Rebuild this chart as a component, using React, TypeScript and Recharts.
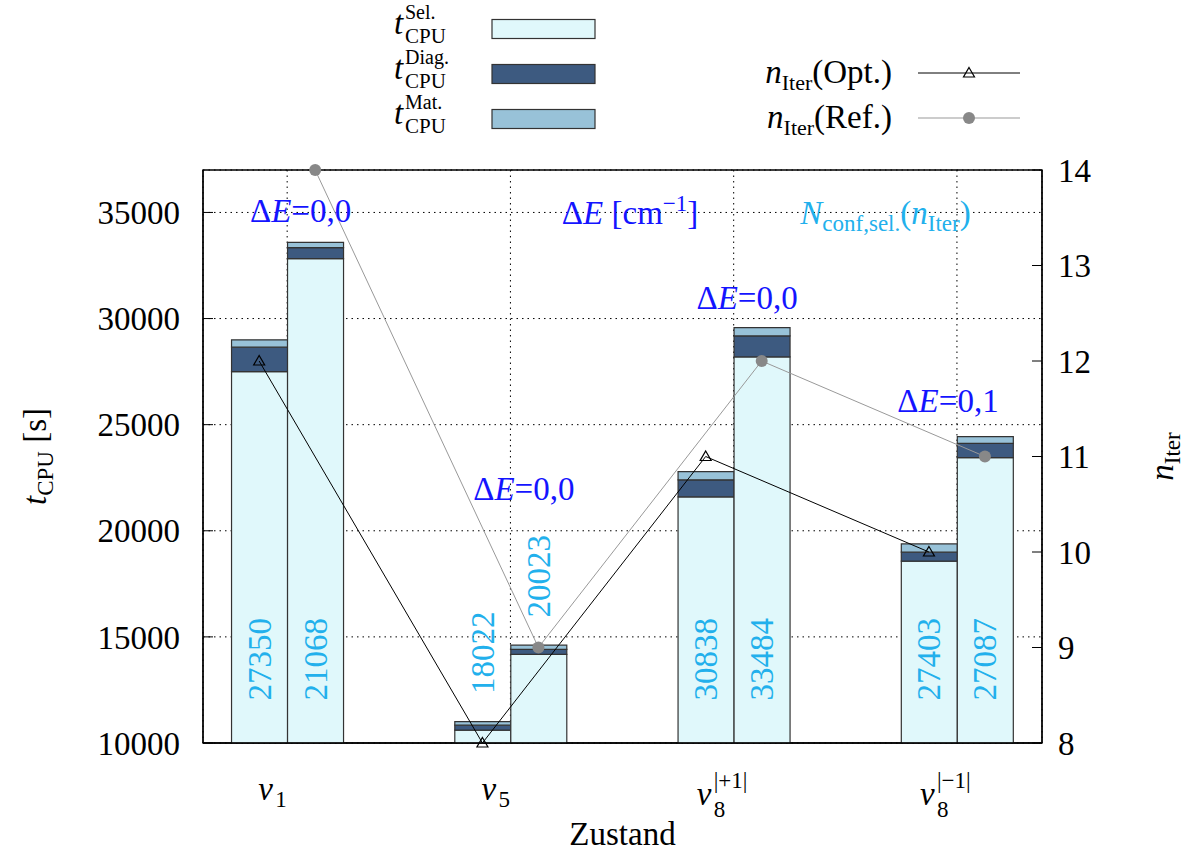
import React from "react";
import {
    ComposedChart, Bar, Line, XAxis, YAxis, CartesianGrid, ReferenceDot, ReferenceArea,
} from "recharts";

const FONT = "'Liberation Serif', 'DejaVu Serif', serif";
const BLUE = "#1414ff";
const CYAN = "#22b0ec";
const SEL = "#e0f8fb";
const DIAG = "#3d5a80";
const MAT = "#98c2d8";
const EDGE = "#333";

// states (x positions 0..3) and their tick labels
const states = [0, 1, 2, 3];
const stateSub = ["1", "5", "8", "8"];
const stateSup = ["", "", "|+1|", "|\u22121|"];

// CPU time parts [s], optimised run
const optSel = [27500, 10610, 21600, 18570];
const optDiag = [1150, 230, 800, 420];
const optMat = [350, 170, 390, 390];

// CPU time parts [s], reference run
const refSel = [32820, 14180, 28190, 23450];
const refDiag = [520, 230, 990, 670];
const refMat = [250, 200, 390, 320];

// number of iterations
const optIter = [12, 8, 11, 10];
const refIter = [14, 9, 12, 11];

// selected configurations
const optConf = [27350, 18022, 30838, 27403];
const refConf = [21068, 20023, 33484, 27087];

// energy deviation per state, with label anchor (state units, seconds)
const deltaE = ["0,0", "0,0", "0,0", "0,1"];
const deltaEX = [0.06, 1.06, 2.06, 2.96];
const deltaEY = [35100, 22000, 31000, 26150];

const leftTicks = [10000, 15000, 20000, 25000, 30000, 35000];
const rightTicks = [8, 9, 10, 11, 12, 13, 14];

// layout
const W = 1194;
const H = 853;
const MARGIN = { top: 170, right: 92, bottom: 70, left: 103 };
const PLOT_W = W - MARGIN.left - MARGIN.right - 100 - 60;
const XMIN = -0.377;
const XMAX = 3.381;
const BAR = 56;
// offset of a bar centre from its state centre, in state units
const SHIFT = (BAR / 2) / (PLOT_W / (XMAX - XMIN));

const rows = states.map((g, i) => ({
    g,
    optSel: optSel[i], optDiag: optDiag[i], optMat: optMat[i],
    refSel: refSel[i], refDiag: refDiag[i], refMat: refMat[i],
    optIter: optIter[i], refIter: refIter[i],
}));

// the count sits low inside tall bars, just above short ones
const confBase = (sel: number, diag: number, mat: number) => {
    const total = sel + diag + mat;
    return total >= 16000 ? 12000 : Math.max(12000, total + 1300);
};

function ConfText({ viewBox, text }: any) {
    const { x, y } = viewBox;
    return (
        <text x={x} y={y} dy="0.35em" transform={`rotate(-90 ${x} ${y})`} textAnchor="start"
            fill={CYAN} fontSize={33} fontFamily={FONT}>{text}</text>
    );
}

function DeltaEText({ viewBox, text }: any) {
    const { x, y } = viewBox;
    return (
        <text x={x} y={y} dy="0.35em" textAnchor="middle" fill={BLUE} fontSize={33} fontFamily={FONT}>
            <tspan>Δ</tspan><tspan fontStyle="italic">E</tspan><tspan>={text}</tspan>
        </text>
    );
}

function DeltaEHead({ viewBox }: any) {
    const { x, y } = viewBox;
    return (
        <text x={x} y={y} dy="0.35em" textAnchor="middle" fill={BLUE} fontSize={33} fontFamily={FONT}>
            <tspan>Δ</tspan><tspan fontStyle="italic">E</tspan><tspan> [cm</tspan>
            <tspan fontSize={23} dy={-13}>−1</tspan><tspan dy={13}>]</tspan>
        </text>
    );
}

function ConfHead({ viewBox }: any) {
    const { x, y } = viewBox;
    return (
        <text x={x} y={y} dy="0.35em" textAnchor="middle" fill={CYAN} fontSize={33} fontFamily={FONT}>
            <tspan fontStyle="italic">N</tspan><tspan fontSize={23} dy={7}>conf,sel.</tspan>
            <tspan dy={-7}>(</tspan><tspan fontStyle="italic">n</tspan>
            <tspan fontSize={23} dy={7}>Iter</tspan><tspan dy={-7}>)</tspan>
        </text>
    );
}

function StateTick({ x, y, payload }: any) {
    const i = Math.round(payload.value);
    const sup = stateSup[i];
    const x0 = x - 29 - (sup ? 8 : 0);
    const base = y + 49 + (sup ? 5 : 0);
    return (
        <g fontFamily={FONT} fill="#000">
            <text x={x0} y={base} fontSize={33} fontStyle="italic">ν</text>
            <text x={x0 + 17} y={base + (sup ? 12 : 7)} fontSize={23}>{stateSub[i]}</text>
            {sup && <text x={x0 + 17} y={base - 17} fontSize={23}>{sup}</text>}
        </g>
    );
}

function XTitle({ viewBox }: any) {
    const { x, y, width } = viewBox;
    return (
        <text x={x + width / 2} y={y + 102} textAnchor="middle" fontSize={33} fontFamily={FONT}>Zustand</text>
    );
}

function LeftTitle({ viewBox }: any) {
    const cx = viewBox.x - 68;
    const cy = viewBox.y + viewBox.height / 2;
    return (
        <text x={cx} y={cy} dy={11} transform={`rotate(-90 ${cx} ${cy})`} textAnchor="middle"
            fontSize={33} fontFamily={FONT}>
            <tspan fontStyle="italic">t</tspan><tspan fontSize={23} dy={7}>CPU</tspan><tspan dy={-7}> [s]</tspan>
        </text>
    );
}

function RightTitle({ viewBox }: any) {
    const cx = viewBox.x + 120;
    const cy = viewBox.y + viewBox.height / 2;
    return (
        <text x={cx} y={cy} dy={11} transform={`rotate(-90 ${cx} ${cy})`} textAnchor="middle"
            fontSize={33} fontFamily={FONT}>
            <tspan fontStyle="italic">n</tspan><tspan fontSize={23} dy={7}>Iter</tspan>
        </text>
    );
}

function Triangle({ cx, cy }: any) {
    if (cx == null || cy == null) return null;
    return (
        <path d={`M${cx} ${cy - 5.5}L${cx + 5.5} ${cy + 4}L${cx - 5.5} ${cy + 4}Z`}
            fill="none" stroke="#000" strokeWidth={1.2} />
    );
}

// legend drawn above the plot
function TopLegend() {
    const timeRows = [
        { sup: "Sel.", fill: SEL, y: 29 },
        { sup: "Diag.", fill: DIAG, y: 74 },
        { sup: "Mat.", fill: MAT, y: 119 },
    ];
    return (
        <svg width={W} height={150} style={{ position: "absolute", left: 0, top: 0 }} fontFamily={FONT}>
            {timeRows.map((r) => (
                <g key={r.sup}>
                    <text x={394} y={r.y + 5} fontSize={33} fontStyle="italic">t</text>
                    <text x={405} y={r.y - 10} fontSize={20}>{r.sup}</text>
                    <text x={405} y={r.y + 14} fontSize={21}>CPU</text>
                    <rect x={492} y={r.y - 9.5} width={103} height={19} fill={r.fill} stroke={EDGE} strokeWidth={1.2} />
                </g>
            ))}
            <text x={892} y={83} fontSize={33} textAnchor="end">
                <tspan fontStyle="italic">n</tspan><tspan fontSize={22} dy={7}>Iter</tspan><tspan dy={-7}>(Opt.)</tspan>
            </text>
            <line x1={918} x2={1020} y1={73} y2={73} stroke="#000" strokeWidth={1} />
            <Triangle cx={969} cy={73} />
            <text x={892} y={128} fontSize={33} textAnchor="end">
                <tspan fontStyle="italic">n</tspan><tspan fontSize={22} dy={7}>Iter</tspan><tspan dy={-7}>(Ref.)</tspan>
            </text>
            <line x1={918} x2={1020} y1={118} y2={118} stroke="#999" strokeWidth={1} />
            <circle cx={969} cy={118} r={6} fill="#888" />
        </svg>
    );
}

export default function App() {
    return (
        <div style={{ position: "absolute", left: 0, top: 0, width: W, height: H, background: "#fff" }}>
            <ComposedChart width={W} height={H} data={rows} margin={MARGIN} barGap={0}
                style={{ fontFamily: FONT }}>
                <CartesianGrid stroke="#000" strokeDasharray="1.5 4" strokeWidth={1} />
                <XAxis dataKey="g" type="number" domain={[XMIN, XMAX]} ticks={states} height={40}
                    tickLine={false} axisLine={{ stroke: "#000", strokeWidth: 1.3 }}
                    tick={<StateTick />} label={<XTitle />} />
                <XAxis xAxisId="opt" dataKey="g" type="number" domain={[XMIN + SHIFT, XMAX + SHIFT]} hide />
                <XAxis xAxisId="ref" dataKey="g" type="number" domain={[XMIN - SHIFT, XMAX - SHIFT]} hide />
                <YAxis domain={[10000, 37000]} ticks={leftTicks} allowDataOverflow width={100}
                    tickSize={-10} tickMargin={33} axisLine={{ stroke: "#000", strokeWidth: 1.3 }}
                    tickLine={{ stroke: "#000" }} tick={{ fill: "#000", fontSize: 33, fontFamily: FONT }}
                    label={<LeftTitle />} />
                <YAxis yAxisId="right" orientation="right" domain={[8, 14]} ticks={rightTicks} width={60}
                    tickSize={-10} tickMargin={26} axisLine={{ stroke: "#000", strokeWidth: 1.3 }}
                    tickLine={{ stroke: "#000" }} tick={{ fill: "#000", fontSize: 33, fontFamily: FONT }}
                    label={<RightTitle />} />

                <Bar dataKey="optSel" stackId="opt" fill={SEL} stroke={EDGE} strokeWidth={1.2} barSize={BAR} isAnimationActive={false} />
                <Bar dataKey="optDiag" stackId="opt" fill={DIAG} stroke={EDGE} strokeWidth={1.2} barSize={BAR} isAnimationActive={false} />
                <Bar dataKey="optMat" stackId="opt" fill={MAT} stroke={EDGE} strokeWidth={1.2} barSize={BAR} isAnimationActive={false} />
                <Bar dataKey="refSel" stackId="ref" fill={SEL} stroke={EDGE} strokeWidth={1.2} barSize={BAR} isAnimationActive={false} />
                <Bar dataKey="refDiag" stackId="ref" fill={DIAG} stroke={EDGE} strokeWidth={1.2} barSize={BAR} isAnimationActive={false} />
                <Bar dataKey="refMat" stackId="ref" fill={MAT} stroke={EDGE} strokeWidth={1.2} barSize={BAR} isAnimationActive={false} />

                <ReferenceArea x1={XMIN} x2={XMAX} y1={10000} y2={37000} fill="none" stroke="#000" strokeWidth={1.3} />

                {states.map((g, i) => (
                    <ReferenceDot key={`oc${g}`} xAxisId="opt" x={g} y={confBase(optSel[i], optDiag[i], optMat[i])}
                        r={0} stroke="none" fill="none" label={<ConfText text={String(optConf[i])} />} />
                ))}
                {states.map((g, i) => (
                    <ReferenceDot key={`rc${g}`} xAxisId="ref" x={g} y={confBase(refSel[i], refDiag[i], refMat[i])}
                        r={0} stroke="none" fill="none" label={<ConfText text={String(refConf[i])} />} />
                ))}
                {states.map((g, i) => (
                    <ReferenceDot key={`de${g}`} x={deltaEX[i]} y={deltaEY[i]}
                        r={0} stroke="none" fill="none" label={<DeltaEText text={deltaE[i]} />} />
                ))}
                <ReferenceDot x={1.536} y={35000} r={0} stroke="none" fill="none" label={<DeltaEHead />} />
                <ReferenceDot x={2.68} y={35000} r={0} stroke="none" fill="none" label={<ConfHead />} />

                <Line xAxisId="opt" yAxisId="right" type="linear" dataKey="optIter" stroke="#000" strokeWidth={1}
                    dot={(p: any) => <Triangle key={`t${p.index}`} cx={p.cx} cy={p.cy} />} isAnimationActive={false} />
                <Line xAxisId="ref" yAxisId="right" type="linear" dataKey="refIter" stroke="#999" strokeWidth={1}
                    dot={(p: any) => <circle key={`c${p.index}`} cx={p.cx} cy={p.cy} r={6} fill="#888" />}
                    isAnimationActive={false} />
            </ComposedChart>
            <TopLegend />
        </div>
    );
}
